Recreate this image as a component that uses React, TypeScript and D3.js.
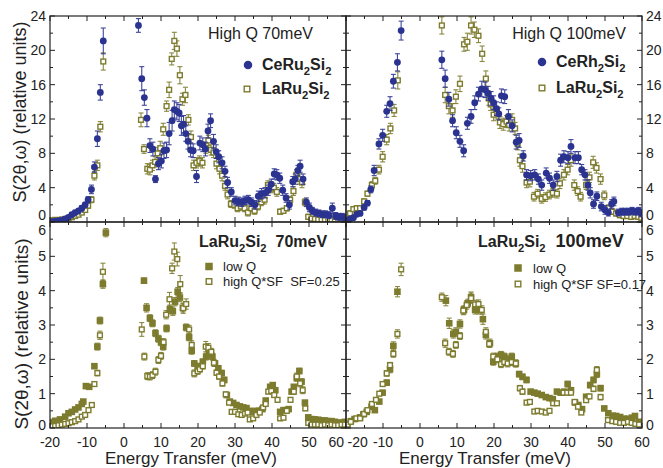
import React from 'react';
import * as d3 from 'd3';

// [energy transfer (meV), S(2θ,ω), error]
type Pt = [number, number, number];

const ceRu2Si2High70: Pt[] = [
  [-19.5,0.05,0.1],[-18.6,0.1,0.1],[-17.7,0.15,0.1],[-16.8,0.2,0.15],[-15.9,0.35,0.15],[-15.0,0.55,0.2],[-14.1,0.85,0.2],[-13.2,1.1,0.25],[-12.3,1.3,0.25],[-11.4,1.6,0.3],[-10.5,2.0,0.3],[-9.7,2.6,0.35],[-8.8,3.8,0.5],[-8.0,6.4,0.6],[-7.2,9.7,0.9],[-6.4,15.1,0.9],[-5.6,21.1,1.5],
  [3.9,22.9,0.8],[4.8,16.7,1.4],[5.5,14.5,0.9],[6.2,12.1,1.0],[7.0,8.9,0.8],[7.8,8.5,0.8],[8.5,5.0,0.4],[9.3,6.8,0.7],[10.1,7.1,0.8],[10.8,8.3,0.9],[11.5,8.4,0.9],[12.2,10.3,1.3],[13.0,11.8,1.2],[13.6,13.1,1.0],[14.3,12.9,1.0],[14.9,12.7,1.0],[15.5,11.2,1.1],[16.1,11.4,1.0],[16.7,10.3,0.9],[17.3,9.4,0.9],[18.0,8.4,0.8],[18.7,8.3,0.8],[19.6,5.3,0.7],[20.5,9.2,0.8],[21.3,9.0,0.8],[22.0,8.5,0.8],[22.7,10.6,0.8],[23.4,11.8,0.8],[24.2,9.4,0.8],[24.9,8.2,0.8],[25.6,7.6,0.7],[26.5,6.9,0.7],[27.3,5.9,0.6],[28.0,4.6,0.6],[29.0,3.5,0.5],[30.0,2.5,0.5],[30.9,2.4,0.5],[31.8,2.3,0.5],[32.7,2.5,0.5],[33.6,2.6,0.5],[34.5,2.3,0.5],[35.4,2.0,0.5],[36.3,3.0,0.6],[37.2,3.3,0.6],[38.1,3.4,0.6],[39.0,3.7,0.6],[39.8,4.4,0.6],[40.6,5.6,0.6],[41.3,5.5,0.6],[42.1,5.1,0.6],[42.9,3.7,0.6],[43.8,2.8,0.5],[44.7,2.0,0.5],[45.6,4.7,0.6],[46.3,5.0,0.6],[47.0,6.0,0.6],[47.6,6.5,0.7],[48.4,5.0,0.6],[49.3,2.3,0.5],[50.1,1.7,0.5],[50.9,1.3,0.4],[51.8,1.1,0.4],[52.7,1.0,0.4],[53.6,0.9,0.4],[54.5,0.9,0.4],[55.4,0.8,0.4],[56.3,1.6,0.6],[57.2,0.7,0.4],[58.1,0.6,0.4],[59.0,0.6,0.4],[59.9,0.5,0.4],
];

const laRu2Si2High70: Pt[] = [
  [-19.5,0.2,0.1],[-18.6,0.25,0.1],[-17.7,0.2,0.1],[-16.8,0.3,0.1],[-15.9,0.35,0.15],[-15.0,0.4,0.15],[-14.1,0.55,0.15],[-13.2,0.7,0.2],[-12.3,0.85,0.2],[-11.4,1.1,0.2],[-10.5,1.4,0.25],[-9.7,1.9,0.3],[-8.8,2.6,0.35],[-8.0,5.4,0.5],[-7.2,6.6,0.6],[-6.4,11.1,0.6],[-5.6,18.7,1.0],
  [4.6,11.9,0.8],[5.4,8.5,0.5],[6.3,6.2,0.6],[7.0,6.1,0.6],[7.7,6.6,0.6],[8.4,7.0,0.6],[9.1,8.0,0.7],[9.8,8.6,0.8],[10.6,10.8,0.7],[11.5,13.5,0.6],[12.2,15.4,0.9],[12.9,19.0,0.7],[13.6,21.1,1.0],[14.3,20.2,0.9],[15.1,17.1,1.0],[15.8,14.3,0.7],[16.6,14.8,0.9],[17.4,11.9,0.6],[18.1,9.9,0.7],[18.8,6.6,0.6],[19.6,6.9,0.6],[20.4,7.1,0.6],[21.2,6.9,0.6],[22.1,8.6,0.6],[22.8,9.5,0.6],[23.5,8.4,0.6],[24.2,8.1,0.6],[25.0,6.8,0.6],[25.8,6.2,0.6],[26.5,5.4,0.6],[27.3,4.2,0.5],[28.0,3.2,0.5],[28.9,2.1,0.4],[29.8,2.0,0.4],[30.7,1.6,0.4],[31.6,1.8,0.4],[32.6,1.6,0.4],[33.5,1.1,0.4],[34.4,1.6,0.4],[35.3,1.3,0.4],[36.2,1.8,0.4],[37.1,2.3,0.4],[38.0,2.6,0.5],[38.9,4.3,0.5],[39.7,3.9,0.5],[40.5,4.0,0.5],[41.3,3.5,0.5],[42.2,1.2,0.3],[43.1,1.3,0.3],[44.0,1.6,0.3],[44.9,2.6,0.4],[45.8,3.6,0.5],[46.6,5.5,0.6],[47.4,5.0,0.6],[48.1,4.6,0.6],[48.9,2.3,0.4],[49.8,0.6,0.3],[50.7,0.4,0.2],[51.6,0.35,0.2],[52.5,0.3,0.2],[53.4,0.3,0.2],[54.3,0.25,0.2],[55.2,0.3,0.2],[56.1,0.25,0.2],[57.0,0.3,0.2],[57.9,0.3,0.2],[58.8,0.3,0.2],[59.7,0.4,0.2],
];

const ceRh2Si2High100: Pt[] = [
  [-19.8,0.2,0.15],[-18.9,0.35,0.15],[-18.0,0.5,0.2],[-17.1,0.9,0.2],[-16.2,1.0,0.2],[-15.1,1.7,0.3],[-14.2,2.2,0.3],[-13.3,3.8,0.4],[-12.4,6.0,0.6],[-11.1,9.1,0.6],[-10.1,10.1,0.7],[-9.0,12.9,0.7],[-8.1,13.8,0.8],[-7.2,16.4,0.8],[-6.1,18.6,1.0],[-5.1,22.3,1.1],
  [5.9,18.9,1.0],[6.8,16.7,1.0],[7.8,14.3,0.8],[8.8,11.8,0.7],[9.8,10.4,0.7],[10.8,9.4,0.7],[11.8,8.3,0.7],[12.8,11.5,0.7],[13.8,12.3,0.8],[14.8,13.9,0.8],[15.8,14.9,0.8],[16.7,15.5,0.9],[17.6,15.4,0.9],[18.4,15.0,0.8],[19.2,14.4,0.8],[19.9,13.9,0.8],[20.7,13.2,0.8],[21.3,12.6,0.7],[22.0,14.7,0.8],[22.9,14.6,0.8],[23.9,12.3,0.8],[24.9,11.2,0.7],[26.0,9.3,0.8],[26.8,9.5,0.8],[27.9,7.7,0.6],[28.8,5.5,0.6],[29.9,5.4,0.6],[31.0,5.5,0.6],[32.0,5.0,0.6],[32.9,4.3,0.6],[34.1,5.7,0.6],[35.0,5.1,0.6],[36.0,4.3,0.6],[37.0,5.3,0.6],[38.0,7.2,0.7],[38.9,7.6,0.7],[40.0,7.5,0.7],[40.8,8.8,0.8],[41.9,7.5,0.7],[42.8,7.5,0.7],[43.7,6.1,0.6],[44.6,5.5,0.6],[45.4,4.3,0.6],[46.0,3.4,0.6],[46.9,2.1,0.5],[47.8,3.0,0.5],[49.0,1.8,0.5],[50.0,1.4,0.5],[50.9,1.1,0.4],[51.8,2.1,0.5],[52.4,2.4,0.5],[53.6,1.1,0.4],[54.5,1.2,0.4],[55.4,1.2,0.4],[56.4,1.2,0.4],[57.3,1.3,0.4],[58.2,1.2,0.4],[59.1,1.3,0.4],[59.8,1.0,0.4],
];

const laRu2Si2High100: Pt[] = [
  [-19.8,0.4,0.2],[-18.9,1.0,0.3],[-18.0,1.5,0.3],[-17.1,1.6,0.3],[-16.2,1.6,0.3],[-15.1,2.4,0.3],[-14.2,3.3,0.3],[-13.0,4.3,0.4],[-12.1,4.8,0.4],[-11.1,6.1,0.5],[-10.1,7.6,0.6],[-9.0,9.6,0.6],[-8.0,10.9,0.6],[-7.0,13.0,0.7],[-6.0,16.5,1.0],
  [5.9,22.9,1.0],[6.8,14.8,0.9],[7.8,13.5,0.9],[8.8,13.0,0.8],[9.7,14.6,0.8],[10.8,16.1,0.9],[11.9,20.7,0.8],[12.8,21.0,1.0],[13.8,22.9,1.0],[14.7,22.4,0.9],[15.8,21.7,0.8],[16.8,19.6,0.9],[17.8,16.7,0.9],[18.6,14.4,0.8],[19.1,13.7,0.7],[19.9,12.5,0.7],[20.8,12.7,0.7],[21.6,11.6,0.7],[22.5,11.4,0.7],[23.4,11.7,0.7],[24.1,11.3,0.7],[24.9,11.9,0.7],[25.7,10.9,0.7],[26.4,9.1,0.7],[27.0,7.2,0.7],[27.7,6.5,0.7],[28.8,4.6,0.6],[29.7,4.7,0.6],[30.8,2.95,0.5],[31.8,3.3,0.5],[32.9,2.7,0.5],[33.9,2.9,0.5],[35.0,3.2,0.5],[35.9,3.4,0.5],[37.0,3.3,0.5],[37.8,4.5,0.6],[38.9,5.5,0.6],[39.9,6.1,0.6],[40.8,7.2,0.7],[41.7,4.3,0.6],[42.6,3.6,0.5],[43.4,2.95,0.5],[44.9,4.3,0.5],[45.8,5.2,0.6],[46.8,6.95,0.7],[47.7,6.3,0.6],[48.8,5.0,0.6],[49.8,3.1,0.5],[50.9,1.6,0.4],[52.0,1.2,0.3],[53.0,1.0,0.3],[54.0,0.8,0.3],[55.0,0.7,0.3],[56.0,0.7,0.3],[57.1,0.6,0.3],[58.0,0.7,0.3],[59.0,0.6,0.3],[59.8,0.5,0.3],
];

const lowQ70: Pt[] = [
  [-20.0,0.17,0.03],[-18.6,0.21,0.03],[-17.3,0.25,0.03],[-15.9,0.33,0.04],[-15.0,0.43,0.04],[-14.1,0.47,0.04],[-13.2,0.54,0.05],[-12.3,0.6,0.05],[-11.4,0.7,0.05],[-11.0,0.77,0.05],[-10.3,1.22,0.06],[-9.4,1.2,0.06],[-8.0,1.8,0.06],[-7.2,2.37,0.1],[-6.5,3.13,0.1],[-5.7,4.19,0.12],[-4.9,5.69,0.12],
  [5.4,4.29,0.08],[6.1,3.5,0.12],[7.0,3.2,0.1],[7.7,3.05,0.1],[8.5,2.76,0.1],[9.3,2.6,0.1],[10.0,2.5,0.1],[10.6,2.37,0.1],[11.5,2.9,0.1],[12.4,3.46,0.12],[13.2,3.4,0.12],[13.8,3.68,0.12],[14.5,3.97,0.12],[15.1,3.8,0.12],[15.9,3.5,0.12],[16.8,2.93,0.1],[17.6,2.64,0.1],[18.3,2.25,0.1],[19.0,1.88,0.08],[19.9,1.8,0.08],[20.6,1.8,0.08],[21.3,1.93,0.08],[22.2,2.08,0.1],[23.0,2.17,0.1],[23.9,2.08,0.1],[24.6,1.88,0.08],[25.5,1.74,0.08],[26.4,1.6,0.08],[27.1,1.4,0.08],[27.8,0.96,0.06],[28.6,0.77,0.05],[29.5,0.73,0.05],[30.4,0.67,0.05],[31.3,0.63,0.05],[32.2,0.6,0.05],[33.1,0.58,0.05],[34.0,0.5,0.05],[34.9,0.47,0.05],[35.8,0.5,0.05],[36.6,0.5,0.05],[37.4,0.55,0.05],[38.3,0.8,0.06],[39.5,1.2,0.06],[40.2,1.25,0.06],[40.9,1.1,0.06],[42.2,0.47,0.05],[43.1,0.52,0.05],[43.8,0.52,0.05],[44.5,0.55,0.05],[45.3,1.06,0.06],[45.9,1.2,0.06],[46.7,1.45,0.08],[47.4,1.66,0.08],[48.0,1.35,0.08],[48.9,0.74,0.06],[49.8,0.31,0.05],[50.7,0.26,0.04],[51.6,0.25,0.04],[52.5,0.24,0.04],[53.4,0.22,0.04],[54.3,0.22,0.04],[55.2,0.2,0.04],[56.1,0.2,0.04],[57.0,0.18,0.04],[57.9,0.15,0.04],[58.8,0.16,0.04],[59.7,0.18,0.04],
];

const highQsf70: Pt[] = [
  [-19.5,0.05,0.03],[-18.6,0.06,0.03],[-17.7,0.08,0.03],[-16.8,0.1,0.03],[-15.9,0.12,0.03],[-15.0,0.14,0.03],[-14.1,0.17,0.04],[-13.2,0.2,0.04],[-12.3,0.25,0.04],[-11.4,0.33,0.05],[-10.5,0.38,0.05],[-9.6,0.52,0.05],[-8.7,0.67,0.06],[-8.0,1.28,0.06],[-7.2,1.6,0.08],[-6.5,2.7,0.12],[-5.7,4.55,0.25],
  [4.8,2.87,0.2],[5.5,2.08,0.1],[6.3,1.51,0.1],[7.0,1.5,0.1],[7.7,1.54,0.1],[8.5,1.64,0.1],[9.3,1.98,0.1],[10.0,2.1,0.1],[10.7,2.5,0.1],[11.4,3.3,0.12],[12.3,3.75,0.2],[13.0,4.65,0.15],[13.6,5.14,0.25],[14.4,4.92,0.2],[15.2,4.19,0.25],[16.0,3.49,0.15],[16.8,3.61,0.15],[17.6,2.87,0.12],[18.3,2.42,0.12],[19.0,1.59,0.1],[19.9,1.65,0.08],[20.5,1.71,0.08],[21.3,1.8,0.08],[22.1,2.37,0.15],[22.8,2.34,0.12],[23.6,2.22,0.1],[24.3,1.9,0.1],[25.0,1.61,0.08],[25.7,1.5,0.08],[26.6,1.3,0.08],[27.5,0.98,0.06],[28.4,0.74,0.06],[29.1,0.47,0.05],[30.0,0.47,0.05],[30.9,0.4,0.05],[31.8,0.38,0.05],[32.7,0.42,0.05],[33.4,0.45,0.05],[34.0,0.25,0.04],[34.9,0.28,0.04],[35.8,0.38,0.05],[36.7,0.45,0.05],[37.6,0.6,0.05],[38.3,0.7,0.06],[39.0,1.06,0.06],[39.8,1.08,0.06],[40.6,0.96,0.06],[41.5,0.82,0.06],[42.2,0.28,0.04],[43.1,0.3,0.04],[44.0,0.5,0.05],[45.0,0.82,0.06],[45.9,1.06,0.08],[46.7,1.5,0.1],[47.6,1.3,0.1],[48.3,1.1,0.1],[49.0,0.57,0.06],[49.8,0.15,0.04],[50.7,0.1,0.03],[51.6,0.1,0.03],[52.5,0.1,0.03],[53.4,0.08,0.03],[54.3,0.1,0.03],[55.2,0.08,0.03],[56.1,0.1,0.03],[57.0,0.08,0.03],[57.9,0.08,0.03],[58.8,0.1,0.03],[59.7,0.1,0.03],
];

const lowQ100: Pt[] = [
  [-19.6,0.12,0.03],[-18.7,0.2,0.03],[-17.7,0.26,0.04],[-16.2,0.31,0.04],[-15.3,0.4,0.04],[-14.4,0.47,0.05],[-13.1,0.62,0.05],[-12.2,0.52,0.05],[-11.0,0.77,0.06],[-10.1,1.03,0.06],[-9.0,1.32,0.08],[-8.1,1.71,0.1],[-7.2,2.39,0.12],[-6.1,3.97,0.15],
  [7.0,3.71,0.15],[7.9,3.05,0.15],[9.0,2.74,0.12],[9.7,2.8,0.12],[10.8,3.03,0.12],[11.9,3.44,0.12],[12.9,3.63,0.12],[13.8,3.81,0.15],[14.9,3.44,0.12],[15.8,3.44,0.12],[17.0,3.17,0.15],[17.8,2.71,0.12],[18.9,2.47,0.12],[19.8,1.93,0.1],[20.9,2.08,0.1],[21.9,2.13,0.1],[22.8,2.08,0.1],[23.7,2.0,0.1],[24.8,2.08,0.1],[25.9,1.88,0.1],[26.8,1.57,0.08],[27.7,1.49,0.08],[28.8,1.4,0.08],[29.9,1.06,0.06],[30.9,1.03,0.06],[31.8,1.0,0.06],[32.9,0.96,0.06],[34.0,0.9,0.06],[35.0,0.87,0.06],[35.9,0.84,0.06],[37.0,1.06,0.06],[38.0,1.03,0.06],[39.0,1.06,0.06],[39.9,1.28,0.08],[40.8,1.1,0.08],[41.9,0.74,0.06],[42.8,0.67,0.06],[43.8,0.55,0.05],[44.9,0.91,0.06],[46.0,1.25,0.08],[46.9,1.4,0.08],[47.8,1.57,0.1],[48.8,1.16,0.08],[49.8,0.57,0.06],[50.9,0.43,0.05],[52.1,0.36,0.05],[53.0,0.35,0.05],[54.1,0.32,0.05],[55.1,0.27,0.05],[56.2,0.27,0.05],[57.3,0.3,0.05],[58.1,0.35,0.05],[59.1,0.18,0.04],
];

const highQsf100: Pt[] = [
  [-19.6,0.1,0.03],[-18.7,0.18,0.03],[-17.2,0.28,0.04],[-16.2,0.28,0.04],[-15.1,0.41,0.04],[-14.2,0.52,0.05],[-13.0,0.7,0.05],[-11.9,0.82,0.05],[-11.0,1.0,0.06],[-10.1,1.28,0.06],[-9.0,1.59,0.08],[-8.1,1.83,0.08],[-7.2,2.16,0.1],[-6.1,2.74,0.12],[-5.1,4.62,0.18],
  [5.9,3.81,0.12],[6.8,2.47,0.12],[7.8,2.22,0.1],[8.9,2.16,0.1],[9.7,2.42,0.1],[10.8,2.68,0.1],[11.7,3.42,0.12],[12.6,3.58,0.12],[13.8,3.78,0.15],[14.9,3.6,0.12],[15.8,3.61,0.12],[16.7,3.44,0.12],[17.8,2.8,0.12],[18.7,2.45,0.1],[19.8,2.08,0.1],[20.9,2.0,0.1],[21.9,1.86,0.1],[22.8,1.92,0.1],[23.7,1.88,0.1],[24.8,1.92,0.1],[25.9,1.88,0.1],[27.0,1.16,0.08],[27.7,1.06,0.08],[28.8,0.74,0.06],[29.7,0.76,0.06],[30.9,0.48,0.05],[31.8,0.5,0.05],[32.9,0.48,0.05],[34.0,0.45,0.05],[35.0,0.5,0.05],[36.0,0.72,0.05],[37.0,0.72,0.05],[38.8,1.03,0.06],[39.8,1.03,0.06],[40.8,1.03,0.06],[41.8,0.76,0.06],[42.7,0.62,0.06],[43.6,0.45,0.05],[44.9,0.81,0.06],[45.8,0.92,0.06],[46.9,1.14,0.08],[47.8,1.69,0.1],[48.8,0.9,0.08],[50.8,0.23,0.04],[52.0,0.2,0.04],[53.0,0.18,0.04],[54.1,0.15,0.04],[55.1,0.15,0.04],[56.2,0.18,0.04],[57.2,0.15,0.04],[58.2,0.12,0.04],[59.2,0.1,0.04],
];

const xTicks = [-20, -10, 0, 10, 20, 30, 40, 50, 60];
const yTicksTop = [0, 4, 8, 12, 16, 20, 24];
const yTicksBottom = [0, 1, 2, 3, 4, 5, 6];

const BLUE = '#2b3390';
const OLIVE = '#7d7b2d';
const INK = '#222';
const FONT = '"Liberation Sans", Arial, Helvetica, sans-serif';

type Marker = 'circle' | 'openSquare' | 'filledSquare';
type Series = { data: Pt[]; marker: Marker; color: string };

type Chem = [string, boolean][];
const CeRu2Si2: Chem = [['CeRu', false], ['2', true], ['Si', false], ['2', true]];
const CeRh2Si2: Chem = [['CeRh', false], ['2', true], ['Si', false], ['2', true]];
const LaRu2Si2: Chem = [['LaRu', false], ['2', true], ['Si', false], ['2', true]];

function ChemText({ parts, x, y, size, weight, anchor }: { parts: Chem; x: number; y: number; size: number; weight?: string; anchor?: string }) {
  let shifted = false;
  const spans = parts.map(([t, sub], i) => {
    let dy = 0;
    if (sub && !shifted) { dy = size * 0.3; shifted = true; }
    else if (!sub && shifted) { dy = -size * 0.3; shifted = false; }
    return (
      <tspan key={i} dy={dy} fontSize={sub ? size * 0.7 : size}>{t}</tspan>
    );
  });
  return (
    <text x={x} y={y} fontFamily={FONT} fontSize={size} fontWeight={weight ?? 'bold'} fill={INK} textAnchor={anchor ?? 'start'}>
      {spans}
    </text>
  );
}

function MarkerShape({ marker, color, cx, cy, s }: { marker: Marker; color: string; cx: number; cy: number; s: number }) {
  if (marker === 'circle') return <circle cx={cx} cy={cy} r={s / 2} fill={color} />;
  if (marker === 'filledSquare') return <rect x={cx - s / 2} y={cy - s / 2} width={s} height={s} fill={color} />;
  return <rect x={cx - s / 2 + 0.7} y={cy - s / 2 + 0.7} width={s - 1.4} height={s - 1.4} fill="#fff" stroke={color} strokeWidth={1.4} />;
}

type PanelProps = {
  id: string;
  x0: number; x1: number; y0: number; y1: number;
  yMax: number; yTicks: number[]; yMinorStep: number;
  side: 'left' | 'right'; row: 'top' | 'bottom';
  series: Series[];
};

function Panel(p: PanelProps) {
  const x = d3.scaleLinear().domain([-20, 60]).range([p.x0, p.x1]);
  const y = d3.scaleLinear().domain([0, p.yMax]).range([p.y1, p.y0]);
  const xMinor = d3.range(-15, 60, 10);
  const yMinor = d3.range(p.yMinorStep, p.yMax, p.yMinorStep * 2);
  const maj = 5, min = 3;
  const tickEls: React.ReactNode[] = [];
  xTicks.forEach((t, i) => {
    tickEls.push(<line key={'xb' + i} x1={x(t)} x2={x(t)} y1={p.y1} y2={p.y1 - maj} />);
    tickEls.push(<line key={'xt' + i} x1={x(t)} x2={x(t)} y1={p.y0} y2={p.y0 + maj} />);
  });
  xMinor.forEach((t, i) => {
    tickEls.push(<line key={'xbm' + i} x1={x(t)} x2={x(t)} y1={p.y1} y2={p.y1 - min} />);
    tickEls.push(<line key={'xtm' + i} x1={x(t)} x2={x(t)} y1={p.y0} y2={p.y0 + min} />);
  });
  p.yTicks.forEach((t, i) => {
    tickEls.push(<line key={'yl' + i} x1={p.x0} x2={p.x0 + maj} y1={y(t)} y2={y(t)} />);
    tickEls.push(<line key={'yr' + i} x1={p.x1} x2={p.x1 - maj} y1={y(t)} y2={y(t)} />);
  });
  yMinor.forEach((t, i) => {
    tickEls.push(<line key={'ylm' + i} x1={p.x0} x2={p.x0 + min} y1={y(t)} y2={y(t)} />);
    tickEls.push(<line key={'yrm' + i} x1={p.x1} x2={p.x1 - min} y1={y(t)} y2={y(t)} />);
  });

  // tick labels on the outer side of the grid; labels that meet at a shared
  // edge or corner are nudged apart
  const yLabels = p.yTicks.map((t, i) => {
    let dy = 0;
    if (p.row === 'top' && i === 0) dy = -7;
    if (p.row === 'bottom' && i === 0) dy = -3;
    if (p.row === 'bottom' && i === p.yTicks.length - 1) dy = 8;
    const lx = p.side === 'left' ? p.x0 - 4 : p.x1 + 4;
    return (
      <text key={'yl' + i} x={lx} y={y(t) + dy + 5} textAnchor={p.side === 'left' ? 'end' : 'start'}
        fontFamily={FONT} fontSize={14} fill={INK}>{t}</text>
    );
  });
  const xLabels = p.row === 'bottom' ? xTicks.map((t, i) => {
    let anchor = 'middle';
    let lx = x(t);
    if (p.side === 'left' && i === xTicks.length - 1) { anchor = 'end'; lx = x(t) - 2; }
    if (p.side === 'right' && i === 0) { anchor = 'start'; lx = x(t) + 1.5; }
    return (
      <text key={'xl' + i} x={lx} y={p.y1 + 19} textAnchor={anchor}
        fontFamily={FONT} fontSize={14} fill={INK}>{t}</text>
    );
  }) : null;

  return (
    <g>
      <defs>
        <clipPath id={p.id}>
          <rect x={p.x0} y={p.y0} width={p.x1 - p.x0} height={p.y1 - p.y0} />
        </clipPath>
      </defs>
      <g clipPath={`url(#${p.id})`}>
        {p.series.map((s, si) => (
          <g key={si}>
            {s.data.map((d, i) => {
              const cx = x(d[0]);
              const hi = y(d[1] + d[2]);
              const lo = y(Math.max(0, d[1] - d[2]));
              return (
                <g key={i} stroke={s.color} strokeWidth={1.1} opacity={0.9}>
                  <line x1={cx} x2={cx} y1={hi} y2={lo} />
                  <line x1={cx - 2.5} x2={cx + 2.5} y1={hi} y2={hi} />
                  <line x1={cx - 2.5} x2={cx + 2.5} y1={lo} y2={lo} />
                </g>
              );
            })}
            {s.data.map((d, i) => (
              <MarkerShape key={'m' + i} marker={s.marker} color={s.color} cx={x(d[0])} cy={y(d[1])}
                s={s.marker === 'circle' ? 6.8 : s.marker === 'filledSquare' ? 6.6 : 6.2} />
            ))}
          </g>
        ))}
      </g>
      <g stroke={INK} strokeWidth={1}>{tickEls}</g>
      <rect x={p.x0} y={p.y0} width={p.x1 - p.x0} height={p.y1 - p.y0} fill="none" stroke={INK} strokeWidth={1.2} />
      {yLabels}
      {xLabels}
    </g>
  );
}

export default function App() {
  const L = [50, 346], R = [346, 642];
  const T = [16, 222], B = [222, 428];
  const yTitle = 'S(2θ,ω) (relative units)';
  return (
    <svg width={663} height={468} style={{ position: 'absolute', left: 0, top: 0, background: '#fff' }}>
      <rect width={663} height={468} fill="#fff" />
      <Panel id="tl" x0={L[0]} x1={L[1]} y0={T[0]} y1={T[1]} yMax={24} yTicks={yTicksTop} yMinorStep={2} side="left" row="top"
        series={[{ data: laRu2Si2High70, marker: 'openSquare', color: OLIVE }, { data: ceRu2Si2High70, marker: 'circle', color: BLUE }]} />
      <Panel id="tr" x0={R[0]} x1={R[1]} y0={T[0]} y1={T[1]} yMax={24} yTicks={yTicksTop} yMinorStep={2} side="right" row="top"
        series={[{ data: laRu2Si2High100, marker: 'openSquare', color: OLIVE }, { data: ceRh2Si2High100, marker: 'circle', color: BLUE }]} />
      <Panel id="bl" x0={L[0]} x1={L[1]} y0={B[0]} y1={B[1]} yMax={6} yTicks={yTicksBottom} yMinorStep={0.5} side="left" row="bottom"
        series={[{ data: lowQ70, marker: 'filledSquare', color: OLIVE }, { data: highQsf70, marker: 'openSquare', color: OLIVE }]} />
      <Panel id="br" x0={R[0]} x1={R[1]} y0={B[0]} y1={B[1]} yMax={6} yTicks={yTicksBottom} yMinorStep={0.5} side="right" row="bottom"
        series={[{ data: lowQ100, marker: 'filledSquare', color: OLIVE }, { data: highQsf100, marker: 'openSquare', color: OLIVE }]} />

      {/* axis titles */}
      <text transform="translate(26,112) rotate(-90)" textAnchor="middle" fontFamily={FONT} fontSize={18} fill={INK}>{yTitle}</text>
      <text transform="translate(28,334) rotate(-90)" textAnchor="middle" fontFamily={FONT} fontSize={19} fill={INK}>{yTitle}</text>
      <text x={191} y={464} textAnchor="middle" fontFamily={FONT} fontSize={17} fill={INK}>Energy Transfer (meV)</text>
      <text x={485} y={464} textAnchor="middle" fontFamily={FONT} fontSize={17} fill={INK}>Energy Transfer (meV)</text>

      {/* top-left annotations */}
      <text x={313} y={39} textAnchor="end" fontFamily={FONT} fontSize={16} fill={INK}>High Q 70meV</text>
      <MarkerShape marker="circle" color={BLUE} cx={248} cy={65} s={8.5} />
      <ChemText parts={CeRu2Si2} x={262} y={70} size={16} />
      <MarkerShape marker="openSquare" color={OLIVE} cx={247} cy={89} s={7} />
      <ChemText parts={LaRu2Si2} x={262} y={94} size={16} />

      {/* top-right annotations */}
      <text x={626} y={39} textAnchor="end" fontFamily={FONT} fontSize={16} fill={INK}>High Q 100meV</text>
      <MarkerShape marker="circle" color={BLUE} cx={542} cy={62} s={8.5} />
      <ChemText parts={CeRh2Si2} x={556} y={67} size={16} />
      <MarkerShape marker="openSquare" color={OLIVE} cx={542} cy={88} s={7} />
      <ChemText parts={LaRu2Si2} x={556} y={93} size={16} />

      {/* bottom-left annotations */}
      <text x={199} y={247} fontFamily={FONT} fontSize={16} fontWeight="bold" fill={INK}>
        <tspan>LaRu</tspan><tspan dy={4.8} fontSize={11.2}>2</tspan><tspan dy={-4.8}>Si</tspan><tspan dy={4.8} fontSize={11.2}>2</tspan>
        <tspan dy={-4.8}>{'\u00a0\u00a070meV'}</tspan>
      </text>
      <MarkerShape marker="filledSquare" color={OLIVE} cx={209} cy={266.5} s={7.5} />
      <text x={223} y={271} fontFamily={FONT} fontSize={13} fill={INK}>low Q</text>
      <MarkerShape marker="openSquare" color={OLIVE} cx={209} cy={281.5} s={7} />
      <text x={223} y={286} fontFamily={FONT} fontSize={13} fill={INK}>{'high Q*SF\u00a0\u00a0SF=0.25'}</text>

      {/* bottom-right annotations */}
      <text x={478} y={247} fontFamily={FONT} fontSize={16} fontWeight="bold" fill={INK}>
        <tspan>LaRu</tspan><tspan dy={4.8} fontSize={11.2}>2</tspan><tspan dy={-4.8}>Si</tspan><tspan dy={4.8} fontSize={11.2}>2</tspan>
        <tspan dy={-4.8} fontSize={18}>{'\u00a0\u00a0100meV'}</tspan>
      </text>
      <MarkerShape marker="filledSquare" color={OLIVE} cx={518} cy={268} s={7.5} />
      <text x={533} y={273} fontFamily={FONT} fontSize={13} fill={INK}>low Q</text>
      <MarkerShape marker="openSquare" color={OLIVE} cx={518} cy={284} s={7} />
      <text x={533} y={289} fontFamily={FONT} fontSize={13} fill={INK}>high Q*SF SF=0.17</text>
    </svg>
  );
}
